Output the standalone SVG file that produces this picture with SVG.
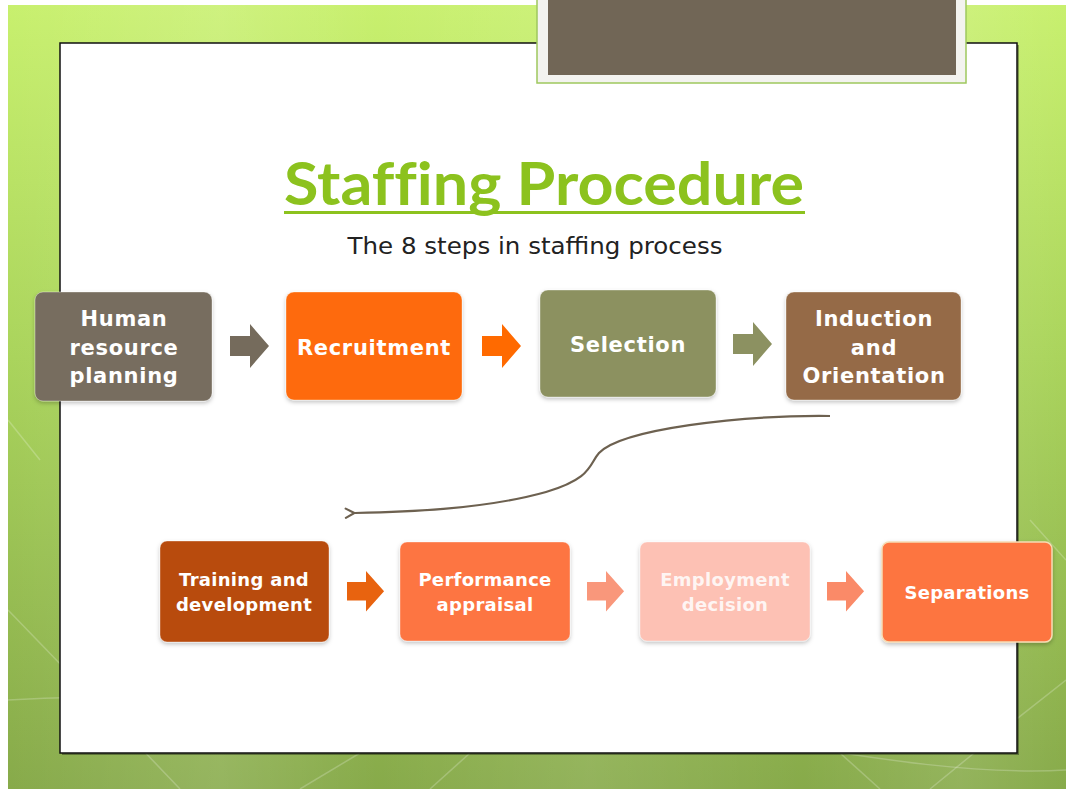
<svg xmlns="http://www.w3.org/2000/svg" width="1066" height="789" viewBox="0 0 1066 789">
  <defs>
    <linearGradient id="bg" x1="0" y1="0" x2="0" y2="1">
      <stop offset="0" stop-color="#c8f06e"/>
      <stop offset="0.45" stop-color="#aad45c"/>
      <stop offset="1" stop-color="#87aa4a"/>
    </linearGradient>
    <linearGradient id="stripes" x1="0" y1="0" x2="1" y2="0">
      <stop offset="0" stop-color="#ffffff" stop-opacity="0"/>
      <stop offset="0.2" stop-color="#ffffff" stop-opacity="0.12"/>
      <stop offset="0.35" stop-color="#ffffff" stop-opacity="0"/>
      <stop offset="0.55" stop-color="#ffffff" stop-opacity="0.1"/>
      <stop offset="0.75" stop-color="#ffffff" stop-opacity="0"/>
      <stop offset="0.9" stop-color="#ffffff" stop-opacity="0.1"/>
      <stop offset="1" stop-color="#ffffff" stop-opacity="0"/>
    </linearGradient>
    <filter id="soft" x="-10%" y="-10%" width="120%" height="130%">
      <feDropShadow dx="0" dy="2" stdDeviation="2" flood-color="#000" flood-opacity="0.25"/>
    </filter>
    <marker id="open" viewBox="0 0 10 10" refX="1" refY="5" markerWidth="6" markerHeight="6" orient="auto-start-reverse" markerUnits="strokeWidth">
      <path d="M8,1.5 L1.5,5 L8,8.5" fill="none" stroke="#6d6150" stroke-width="1.6" stroke-linejoin="round" stroke-linecap="round"/>
    </marker>
    <!-- block arrow: 39 wide, 44 tall -->
    <path id="blk" d="M0,12 H20 V0 L39,22 L20,44 V32 H0 Z"/>
    <style>
      .box { stroke: #ffffff; stroke-opacity: 0.35; stroke-width: 1; filter: url(#soft); }
      .lbl { font-family: "DejaVu Sans", "Liberation Sans", sans-serif; font-weight: bold; fill: #ffffff; text-anchor: middle; }
      .r1 { font-size: 21px; letter-spacing: 0.7px; }
      .r2 { font-size: 18px; letter-spacing: 0.3px; }
      .bgline { stroke: #ffffff; stroke-opacity: 0.22; stroke-width: 1.5; fill: none; }
      .title { font-family: Lato, "DejaVu Sans", sans-serif; font-weight: bold; font-size: 60px; fill: #8cc21e; text-anchor: middle; font-variant-ligatures: none; font-feature-settings: "liga" 0, "clig" 0; }
    </style>
  </defs>

  <!-- page background -->
  <rect x="0" y="0" width="1066" height="789" fill="#ffffff"/>
  <rect x="8" y="5" width="1058" height="784" fill="url(#bg)"/>
  <rect x="8" y="5" width="1058" height="784" fill="url(#stripes)"/>
  <g class="bgline">
    <path d="M8,610 L95,700 L180,789"/>
    <path d="M8,700 C200,690 500,700 760,740 C880,760 980,775 1066,770"/>
    <path d="M300,789 L360,753"/>
    <path d="M430,789 L470,753"/>
    <path d="M840,753 L880,789"/>
    <path d="M1066,680 L990,740 L930,789"/>
    <path d="M1030,520 L1066,560"/>
    <path d="M8,420 L40,460"/>
  </g>

  <!-- slide panel -->
  <rect x="62" y="45" width="957" height="710" fill="#000000" opacity="0.35"/>
  <rect x="60" y="43" width="957" height="710" fill="#ffffff" stroke="#111111" stroke-width="1.5"/>

  <!-- header tab -->
  <rect x="537" y="-4" width="429" height="87" fill="#f3f3ef" stroke="#9ec85e" stroke-width="1.5"/>
  <rect x="548" y="-4" width="408" height="79" fill="#716656"/>

  <!-- title -->
  <text class="title" x="544" y="205" textLength="520" lengthAdjust="spacingAndGlyphs">Staffing Procedure</text>
  <rect x="284" y="211" width="521" height="3" fill="#8cc21e"/>
  <text x="535" y="254" font-family="'DejaVu Sans', 'Liberation Sans', sans-serif" font-size="23" fill="#222222" text-anchor="middle" textLength="375" lengthAdjust="spacingAndGlyphs">The 8 steps in staffing process</text>

  <!-- connectors -->
  <g id="connectors">
    <use href="#blk" x="230" y="324" fill="#756b5c"/>
    <use href="#blk" x="482" y="324" fill="#ff6a00"/>
    <use href="#blk" x="733" y="322" fill="#8c9161"/>
    <path d="M830,416 C740,415 622,429 599,453 C589,464 593,478 546,492 C482,510 400,512 355,513" fill="none" stroke="#6d6150" stroke-width="2.2" marker-end="url(#open)"/>
    <use href="#blk" transform="translate(347,571) scale(0.95,0.92)" fill="#e8630f"/>
    <use href="#blk" transform="translate(587,571) scale(0.95,0.92)" fill="#f9977b"/>
    <use href="#blk" transform="translate(827,571) scale(0.95,0.92)" fill="#fa8a68"/>
  </g>

  <!-- row 1 -->
  <g id="n-hrp">
    <rect class="box" x="35" y="292" width="177" height="109" rx="8" fill="#776d5e"/>
    <text class="lbl r1" x="124" y="326">Human</text>
    <text class="lbl r1" x="124" y="355">resource</text>
    <text class="lbl r1" x="124" y="383">planning</text>
  </g>
  <g id="n-recruitment">
    <rect class="box" x="286" y="292" width="176" height="108" rx="8" fill="#fe6b08"/>
    <text class="lbl r1" x="374" y="355">Recruitment</text>
  </g>
  <g id="n-selection">
    <rect class="box" x="540" y="290" width="176" height="107" rx="8" fill="#8c9161"/>
    <text class="lbl r1" x="628" y="352">Selection</text>
  </g>
  <g id="n-induction">
    <rect class="box" x="786" y="292" width="175" height="108" rx="8" fill="#956b46"/>
    <text class="lbl r1" x="874" y="326">Induction</text>
    <text class="lbl r1" x="874" y="355">and</text>
    <text class="lbl r1" x="874" y="383">Orientation</text>
  </g>

  <!-- row 2 -->
  <g id="n-training">
    <rect class="box" x="160" y="541" width="169" height="101" rx="7" fill="#b84c10"/>
    <text class="lbl r2" x="244" y="586">Training and</text>
    <text class="lbl r2" x="244" y="611">development</text>
  </g>
  <g id="n-appraisal">
    <rect class="box" x="400" y="542" width="170" height="99" rx="7" fill="#fd7542"/>
    <text class="lbl r2" x="485" y="586">Performance</text>
    <text class="lbl r2" x="485" y="611">appraisal</text>
  </g>
  <g id="n-decision">
    <rect class="box" x="640" y="542" width="170" height="99" rx="7" fill="#fdc1b4"/>
    <text class="lbl r2" x="725" y="586" fill-opacity="0.85">Employment</text>
    <text class="lbl r2" x="725" y="611" fill-opacity="0.85">decision</text>
  </g>
  <g id="n-separations">
    <rect x="882" y="542" width="170" height="100" rx="7" fill="#fd7440" stroke="#f6dcb4" stroke-width="1.5" filter="url(#soft)"/>
    <text class="lbl r2" x="967" y="599">Separations</text>
  </g>
</svg>
